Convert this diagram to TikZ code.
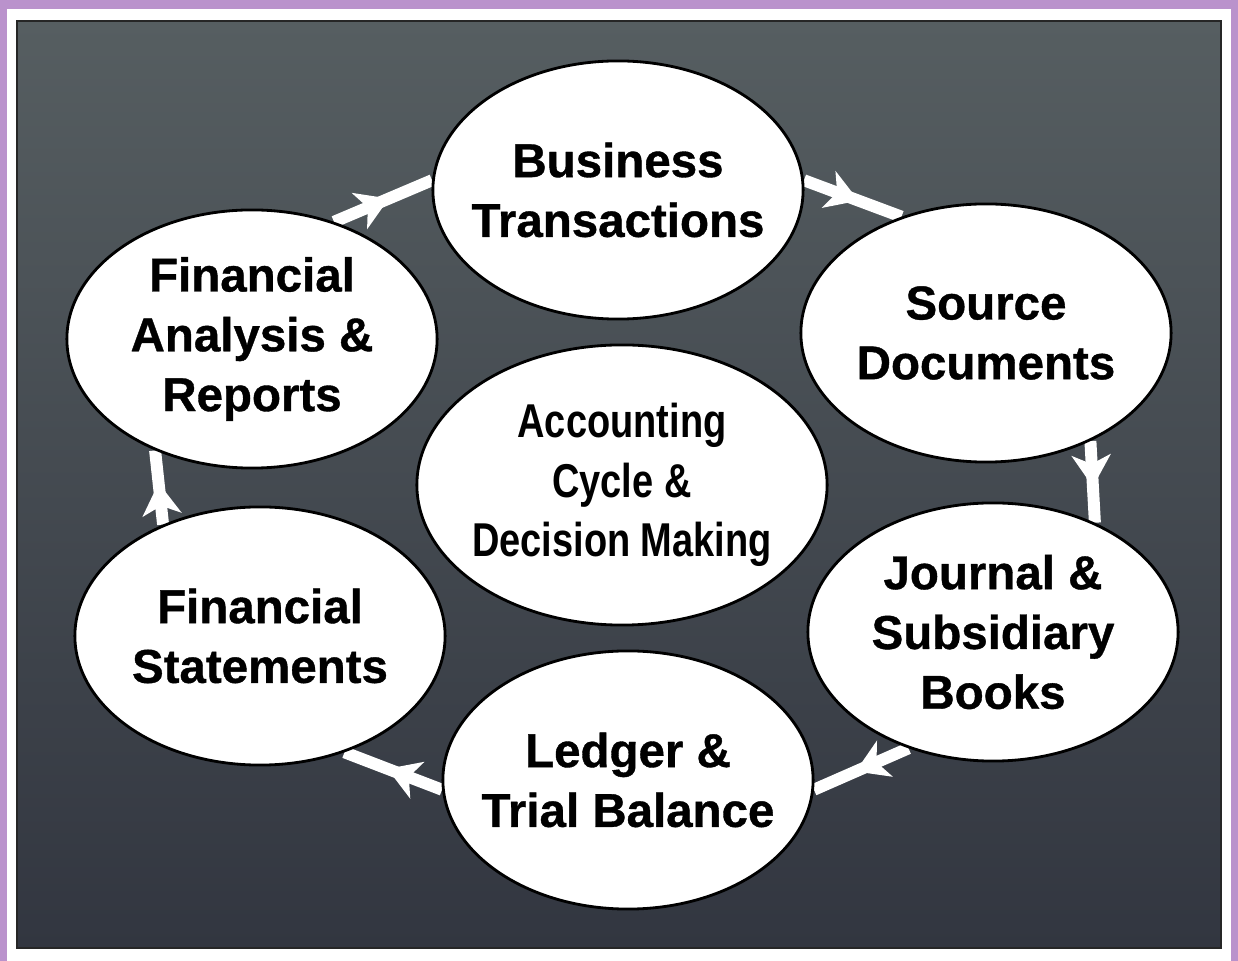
\documentclass[tikz,border=0pt]{standalone}
\usepackage{fontspec}
\setmainfont{Liberation Sans}[BoldFeatures={FakeBold=0.8}]
\newfontfamily\narrowfont[FakeStretch=0.8]{Liberation Sans}
\usetikzlibrary{shapes.geometric,arrows.meta,decorations.markings}
\pgfdeclarelayer{panel}
\pgfdeclarelayer{links}
\pgfsetlayers{panel,links,main}
\definecolor{pagepurple}{RGB}{186,146,204}
\definecolor{boardtop}{RGB}{86,94,97}
\definecolor{boardbot}{RGB}{50,54,64}

\begin{document}
\begin{tikzpicture}[x=0.01cm,y=-0.01cm,
  stage/.style={ellipse, draw=black, line width=0.8pt, fill=white, minimum width=3.7cm, minimum height=2.58cm, inner sep=-12pt, align=center, font=\bfseries\fontsize{13.5}{17}\selectfont},
  hub/.style={stage, minimum width=4.1cm, minimum height=2.8cm, font=\narrowfont\bfseries\fontsize{13.5}{17}\selectfont},
  flow/.style={draw=white, line width=3.4pt, postaction={decorate},
    decoration={markings, mark=at position 0.56 with {\arrow{Stealth[length=9pt,width=11pt,inset=2.5pt]}}}}]
\useasboundingbox (0,0) rectangle (1238,961);

% Page, frame and board
\begin{pgfonlayer}{panel}
\fill[pagepurple] (0,0) rectangle (1238,961);
\fill[white] (7,9) rectangle (1231,961);
\shadedraw[top color=boardtop, bottom color=boardbot, draw=black!85, line width=0.6pt] (17,21) rectangle (1221,948);
\end{pgfonlayer}

% The stages of the cycle
\node[stage] (trans) at (618,190) {Business\\Transactions};
\node[stage] (source) at (986,333) {Source\\Documents};
\node[stage] (journal) at (993,632) {Journal \&\\Subsidiary\\Books};
\node[stage] (ledger) at (628,780) {Ledger \&\\Trial Balance};
\node[stage] (stmts) at (260,636) {Financial\\Statements};
\node[stage] (analysis) at (252,339) {Financial\\Analysis \&\\Reports};
\node[hub] (cycle) at (622,485) {Accounting\\Cycle \&\\Decision Making};

% Arrows round the cycle
\begin{pgfonlayer}{links}
\draw[flow] (trans.3) -- (source.126);
\draw[flow] (source.-46) -- (journal.47);
\draw[flow] (journal.234) -- (ledger.-3);
\draw[flow] (ledger.183) -- (stmts.306);
\draw[flow] (stmts.131) -- (analysis.229);
\draw[flow] (analysis.55) -- (trans.177);
\end{pgfonlayer}
\end{tikzpicture}
\end{document}
